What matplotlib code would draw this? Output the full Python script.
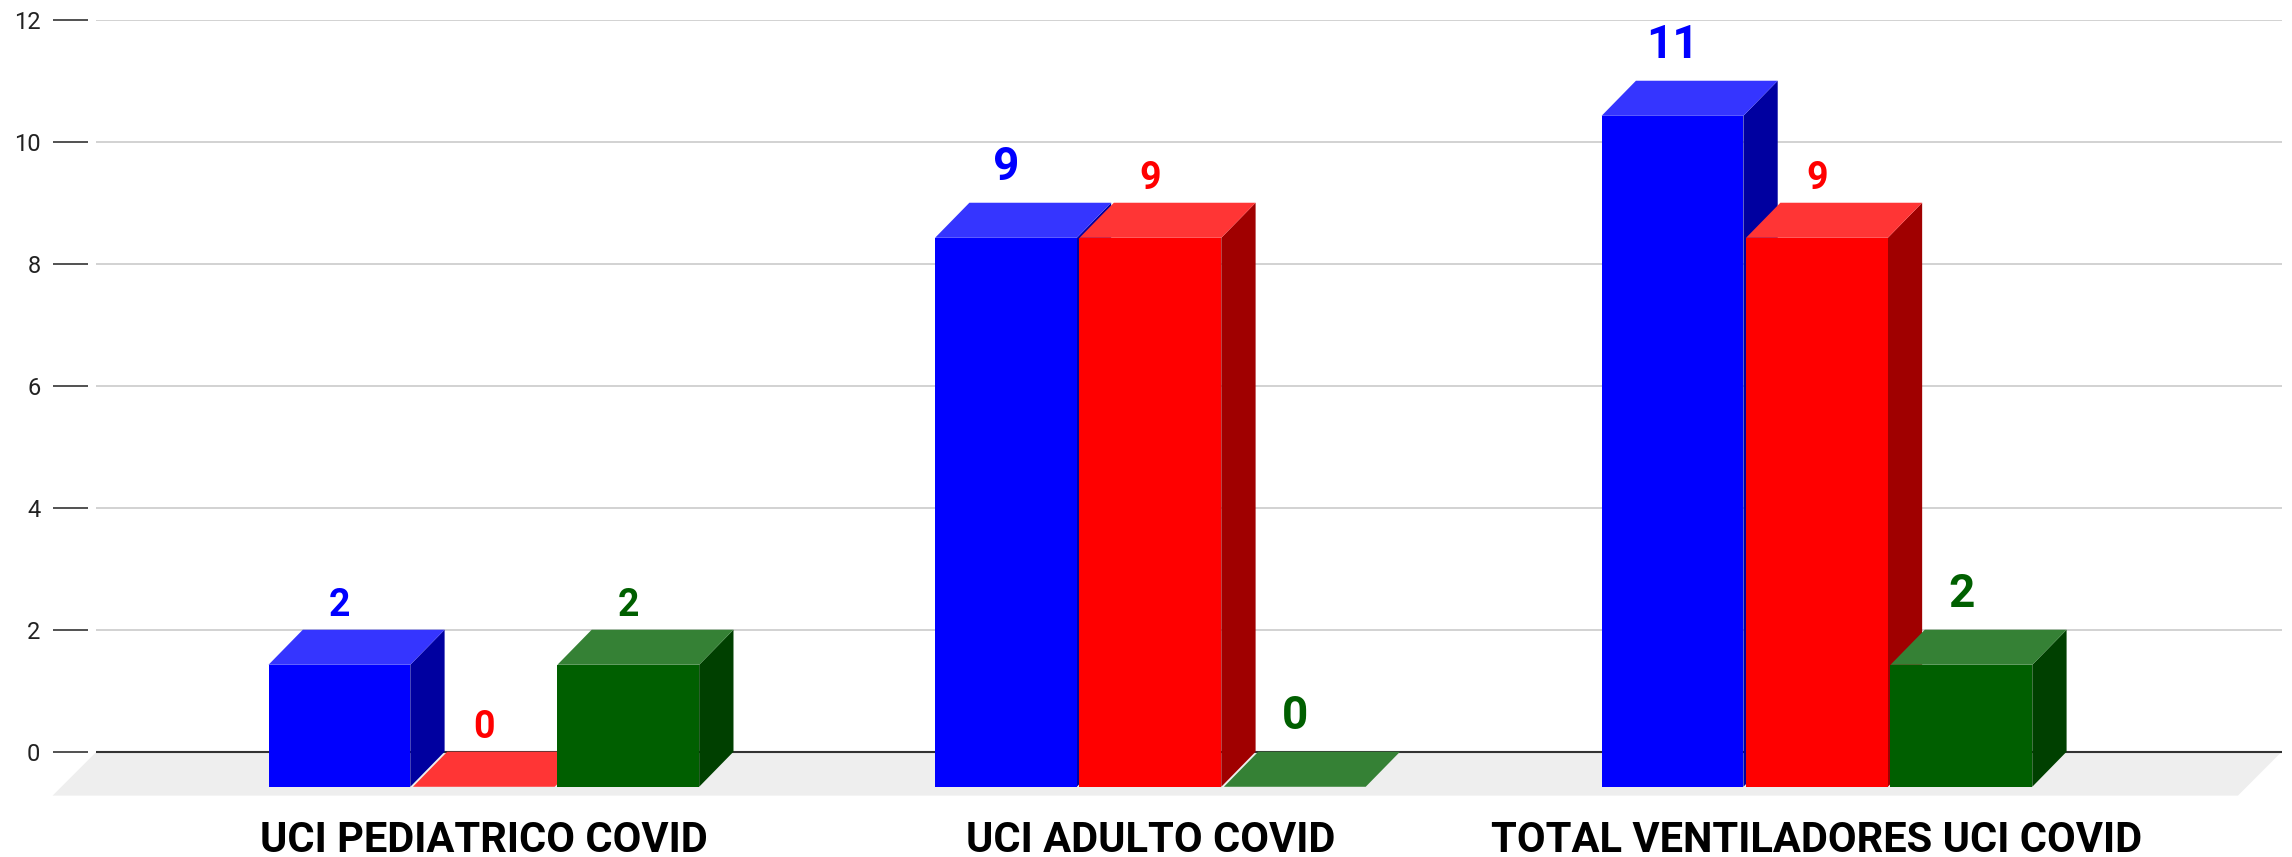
import numpy as np
import matplotlib
matplotlib.use('Agg')
import matplotlib.pyplot as plt

plt.rcParams['font.family'] = ['Roboto', 'DejaVu Sans']

categories = ['UCI PEDIATRICO COVID', 'UCI ADULTO COVID', 'TOTAL VENTILADORES UCI COVID']
serie_azul = [2, 9, 11]
serie_roja = [0, 9, 9]
serie_verde = [2, 0, 2]
yticks = [0, 2, 4, 6, 8, 10, 12]

# colores: frente, tapa, lado
colores = [
    ('#0000ff', '#3535ff', '#0000a0'),
    ('#ff0000', '#ff3535', '#a00000'),
    ('#005f00', '#358135', '#004000'),
]
# tamano de cada etiqueta (los valores del grafico original no son uniformes)
tam_etiquetas = [
    [27, 33, 33],
    [27, 27, 27],
    [27, 33, 33],
]

# medidas del "3D" en unidades de datos
ancho = 0.2127
paso = 0.2167
dx = 0.0515
dy = 0.575

fig = plt.figure(figsize=(22.92, 8.57), dpi=100)
ax = fig.add_axes([60 / 1568, 72 / 586, 1501 / 1568, 500.5 / 586])
ax.set_xlim(-271 / 456, 1230 / 456)
ax.set_ylim(0, 12)
x0 = -265 / 456
x1 = 1230 / 456

# suelo y lineas de la cuadricula
ax.fill([x0, x1, x1 - 0.0658, x0 - 0.0658], [0, 0, -0.72, -0.72],
        color='#eeeeee', lw=0, clip_on=False, zorder=0)
ax.hlines(yticks[1:], x0, x1, color='#d2d2d2', lw=1.4, zorder=0)
ax.hlines(0, x0, x1, color='#333333', lw=1.5, zorder=0, clip_on=False)

series = [serie_azul, serie_roja, serie_verde]
x = np.arange(len(categories))
for i, valores in enumerate(series):
    frente, tapa, lado = colores[i]
    for xc, v, tam in zip(x + (i - 1) * paso, valores, tam_etiquetas[i]):
        izq = xc - ancho / 2
        der = xc + ancho / 2
        ax.fill([der, der + dx, der + dx, der], [-dy, 0, v, v - dy],
                color=lado, lw=0, clip_on=False)
        ax.fill([izq, der, der + dx, izq + dx], [v - dy, v - dy, v, v],
                color=tapa, lw=0, clip_on=False)
        ax.bar(xc, v, width=ancho, bottom=-dy, color=frente, lw=0, clip_on=False)
        desp = 24.5 if tam == 33 else 16.5
        ax.annotate(str(v), (xc, v), xytext=(0, desp * 1.4617 * 0.72), textcoords='offset points',
                    ha='center', va='center', fontsize=tam, fontweight='bold', color=frente)

ax.set_yticks(yticks)
ax.set_xticks(x)
ax.set_xticklabels(categories, fontsize=30, fontweight='bold', color='black')
ax.tick_params(axis='y', length=25, width=1.1, color='#222222', pad=9, labelsize=17, labelcolor='#222222')
ax.tick_params(axis='x', length=0, pad=49)
for s in ax.spines.values():
    s.set_visible(False)

fig.savefig('out.png', dpi=100)
